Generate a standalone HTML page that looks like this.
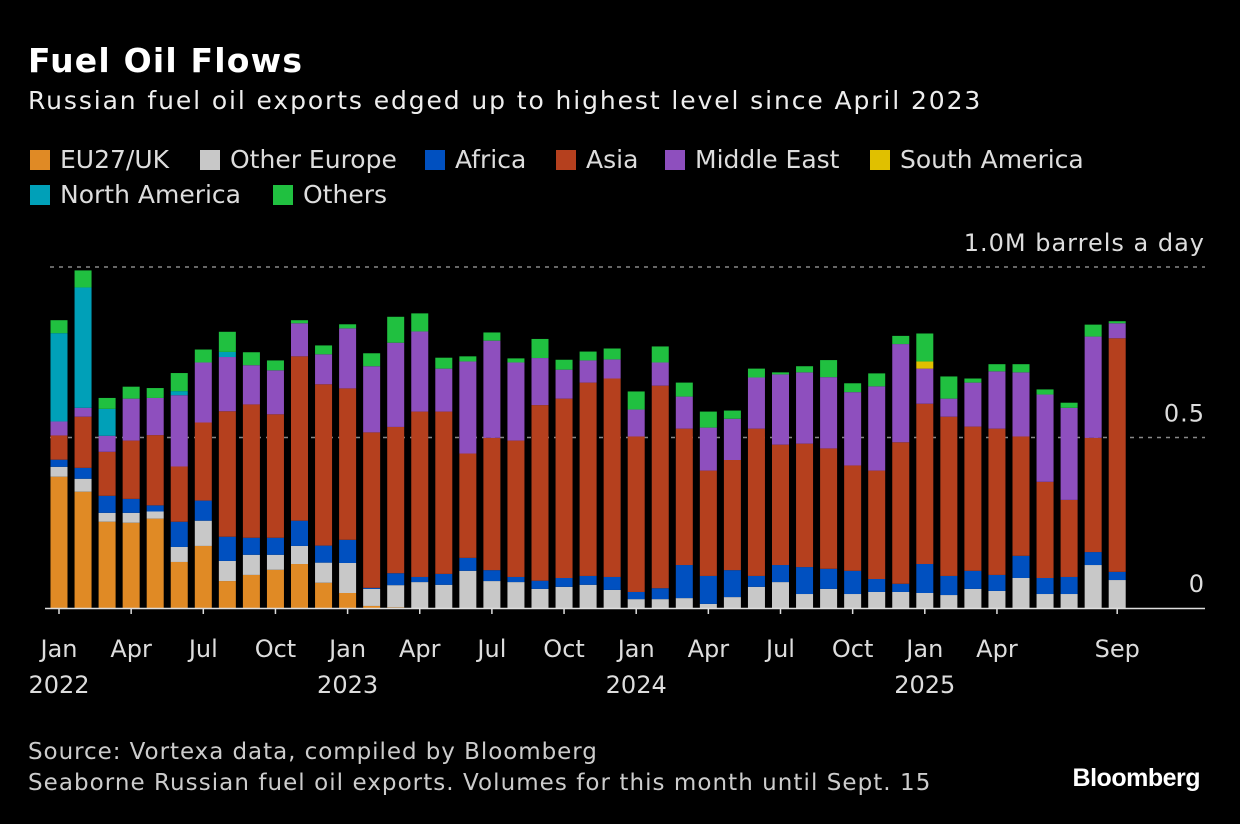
<!DOCTYPE html>
<html><head><meta charset="utf-8">
<style>
html,body{margin:0;padding:0;background:#000;}
body{width:1240px;height:824px;position:relative;overflow:hidden;font-family:"DejaVu Sans","Liberation Sans",sans-serif;color:#fff;}
.t{position:absolute;white-space:nowrap;}
.leg{position:absolute;font-size:25px;color:#ddd;display:flex;align-items:center;}
.sw{width:20px;height:20px;display:inline-block;margin-right:10px;}
</style></head><body>
<div class="t" style="left:28px;top:41px;font-size:33px;font-weight:bold;letter-spacing:1.2px;">Fuel Oil Flows</div>
<div class="t" style="left:28px;top:86px;font-size:25px;color:#eee;letter-spacing:1.9px;">Russian fuel oil exports edged up to highest level since April 2023</div>
<div id="legend"></div>
<svg id="chart" width="1240" height="824" style="position:absolute;left:0;top:0"></svg>
<div class="t" style="left:28px;top:739px;font-size:23px;color:#ccc;letter-spacing:0.95px;">Source: Vortexa data, compiled by Bloomberg</div>
<div class="t" style="left:28px;top:770px;font-size:23px;color:#ccc;letter-spacing:1.05px;">Seaborne Russian fuel oil exports. Volumes for this month until Sept. 15</div>
<div class="t" style="right:40px;top:764px;font-size:25px;font-weight:bold;letter-spacing:-0.5px;font-family:'Liberation Sans',sans-serif;">Bloomberg</div>
<script>
// thousand barrels per day
const months = 45;
const seriesNames = ["EU27/UK","Other Europe","Africa","Asia","Middle East","South America","North America","Others"];
const seriesColors = ["#e08a25","#c8c8c8","#0050c0","#b5401e","#8e4fbe","#e0c000","#00a0b8","#20c040"];
const eu = [385,341,253,250,262,135,182,79,97,112,129,74,44,6,2,0,0,0,0,0,0,0,0,0,0,0,0,0,0,0,0,0,0,0,0,0,0,0,0,0,0,0,0,0,0];
const otherEurope = [29,38,26,29,21,44,74,59,59,44,53,59,88,50,65,76,68,109,79,76,56,62,68,53,26,26,29,12,32,62,76,41,56,41,47,47,44,38,56,50,88,41,41,126,82];
const africa = [21,32,50,41,18,74,59,71,50,50,74,50,68,3,35,15,32,38,32,15,24,26,26,38,21,32,97,82,79,32,50,79,59,68,38,24,85,56,53,47,65,47,50,38,24];
const asia = [71,150,129,171,206,162,229,368,391,362,482,473,444,456,429,485,476,306,388,400,515,526,567,582,456,594,400,309,323,432,353,362,353,309,318,415,470,467,423,429,350,282,226,335,685];
const middleEast = [41,26,47,123,109,209,176,159,115,129,97,88,176,194,247,235,126,270,285,229,138,85,65,56,79,68,94,126,121,150,206,209,209,215,247,288,103,53,129,168,188,256,270,297,44];
const southAmerica = [0,0,0,0,0,0,0,0,0,0,0,0,0,0,0,0,0,0,0,0,0,0,0,0,0,0,0,0,0,0,0,0,0,0,0,0,21,0,0,0,0,0,0,0,0];
const northAmerica = [259,353,79,0,0,12,0,15,0,0,0,0,0,0,0,0,0,0,0,0,0,0,0,0,0,0,0,0,0,0,0,0,0,0,0,0,0,0,0,0,0,0,0,0,0];
const others = [38,50,32,35,29,53,38,59,38,29,9,26,12,38,76,53,32,15,24,12,56,29,26,32,53,47,41,47,24,26,6,18,50,26,38,24,82,65,12,21,24,15,15,35,6];
const xTickIndex = [0,3,6,9,12,15,18,21,24,27,30,33,36,39,44];
const xTickLabels = ["Jan","Apr","Jul","Oct","Jan","Apr","Jul","Oct","Jan","Apr","Jul","Oct","Jan","Apr","Sep"];
const yearLabels = ["2022","","","","2023","","","","2024","","","","2025","",""];
const yTicks = [0,500,1000];
const yTickLabels = ["0","0.5","1.0M barrels a day"];

const series = [eu,otherEurope,africa,asia,middleEast,southAmerica,northAmerica,others];
const NS="http://www.w3.org/2000/svg";
const svg=document.getElementById('chart');
const FF='DejaVu Sans, Liberation Sans, sans-serif';
const x0=59, step=24.05, baseY=608, pxPer=0.341, bw=17;
const xs=i=>x0+i*step;
const ys=v=>baseY-v*pxPer;
function mk(tag,attrs){const e=document.createElementNS(NS,tag);for(const k in attrs)e.setAttribute(k,attrs[k]);svg.appendChild(e);return e;}
yTicks.forEach((t,j)=>{
  if(t>0){const l=mk('line',{x1:50,x2:1205,y1:ys(t),y2:ys(t),stroke:'#888','stroke-width':1.5,'stroke-dasharray':'4,5'});
  
  }
  const tx=mk('text',{x:1205,y:ys(t)-16,'text-anchor':'end','font-size':24,fill:'#ddd','font-family':FF,'letter-spacing':1});
  tx.textContent=yTickLabels[j];
  
  
});
for(let i=0;i<months;i++){
  let cum=0;
  series.forEach((s,k)=>{
    const v=s[i]; if(!v) return;
    const r=mk('rect',{x:xs(i)-bw/2,y:ys(cum+v),width:bw,height:v*pxPer,fill:seriesColors[k]});
    
    
    cum+=v;
  });
}
const base=mk('line',{x1:45,x2:1205,y1:baseY+0.5,y2:baseY+0.5,stroke:'#ddd','stroke-width':1.5});


xTickIndex.forEach((idx,j)=>{
  const tk=mk('line',{x1:xs(idx),x2:xs(idx),y1:baseY,y2:baseY+6,stroke:'#ddd','stroke-width':1.5});
  
  
  const t=mk('text',{x:xs(idx),y:657,'text-anchor':'middle','font-size':24,fill:'#ddd','font-family':FF});
  t.textContent=xTickLabels[j];
  
  
  if(yearLabels[j]){const y=mk('text',{x:xs(idx),y:693,'text-anchor':'middle','font-size':24,fill:'#ddd','font-family':FF});
  y.textContent=yearLabels[j];
  
  }
});
const legPos=[[30,145],[200,145],[425,145],[556,145],[665,145],[870,145],[30,180],[273,180]];
const lg=document.getElementById('legend');
seriesNames.forEach((n,k)=>{
  const d=document.createElement('div');
  d.className='leg';
  d.style.left=legPos[k][0]+'px';d.style.top=legPos[k][1]+'px';
  
  
  d.innerHTML='<span class="sw" style="background:'+seriesColors[k]+'"></span>'+n;
  lg.appendChild(d);
});
</script>
</body></html>
